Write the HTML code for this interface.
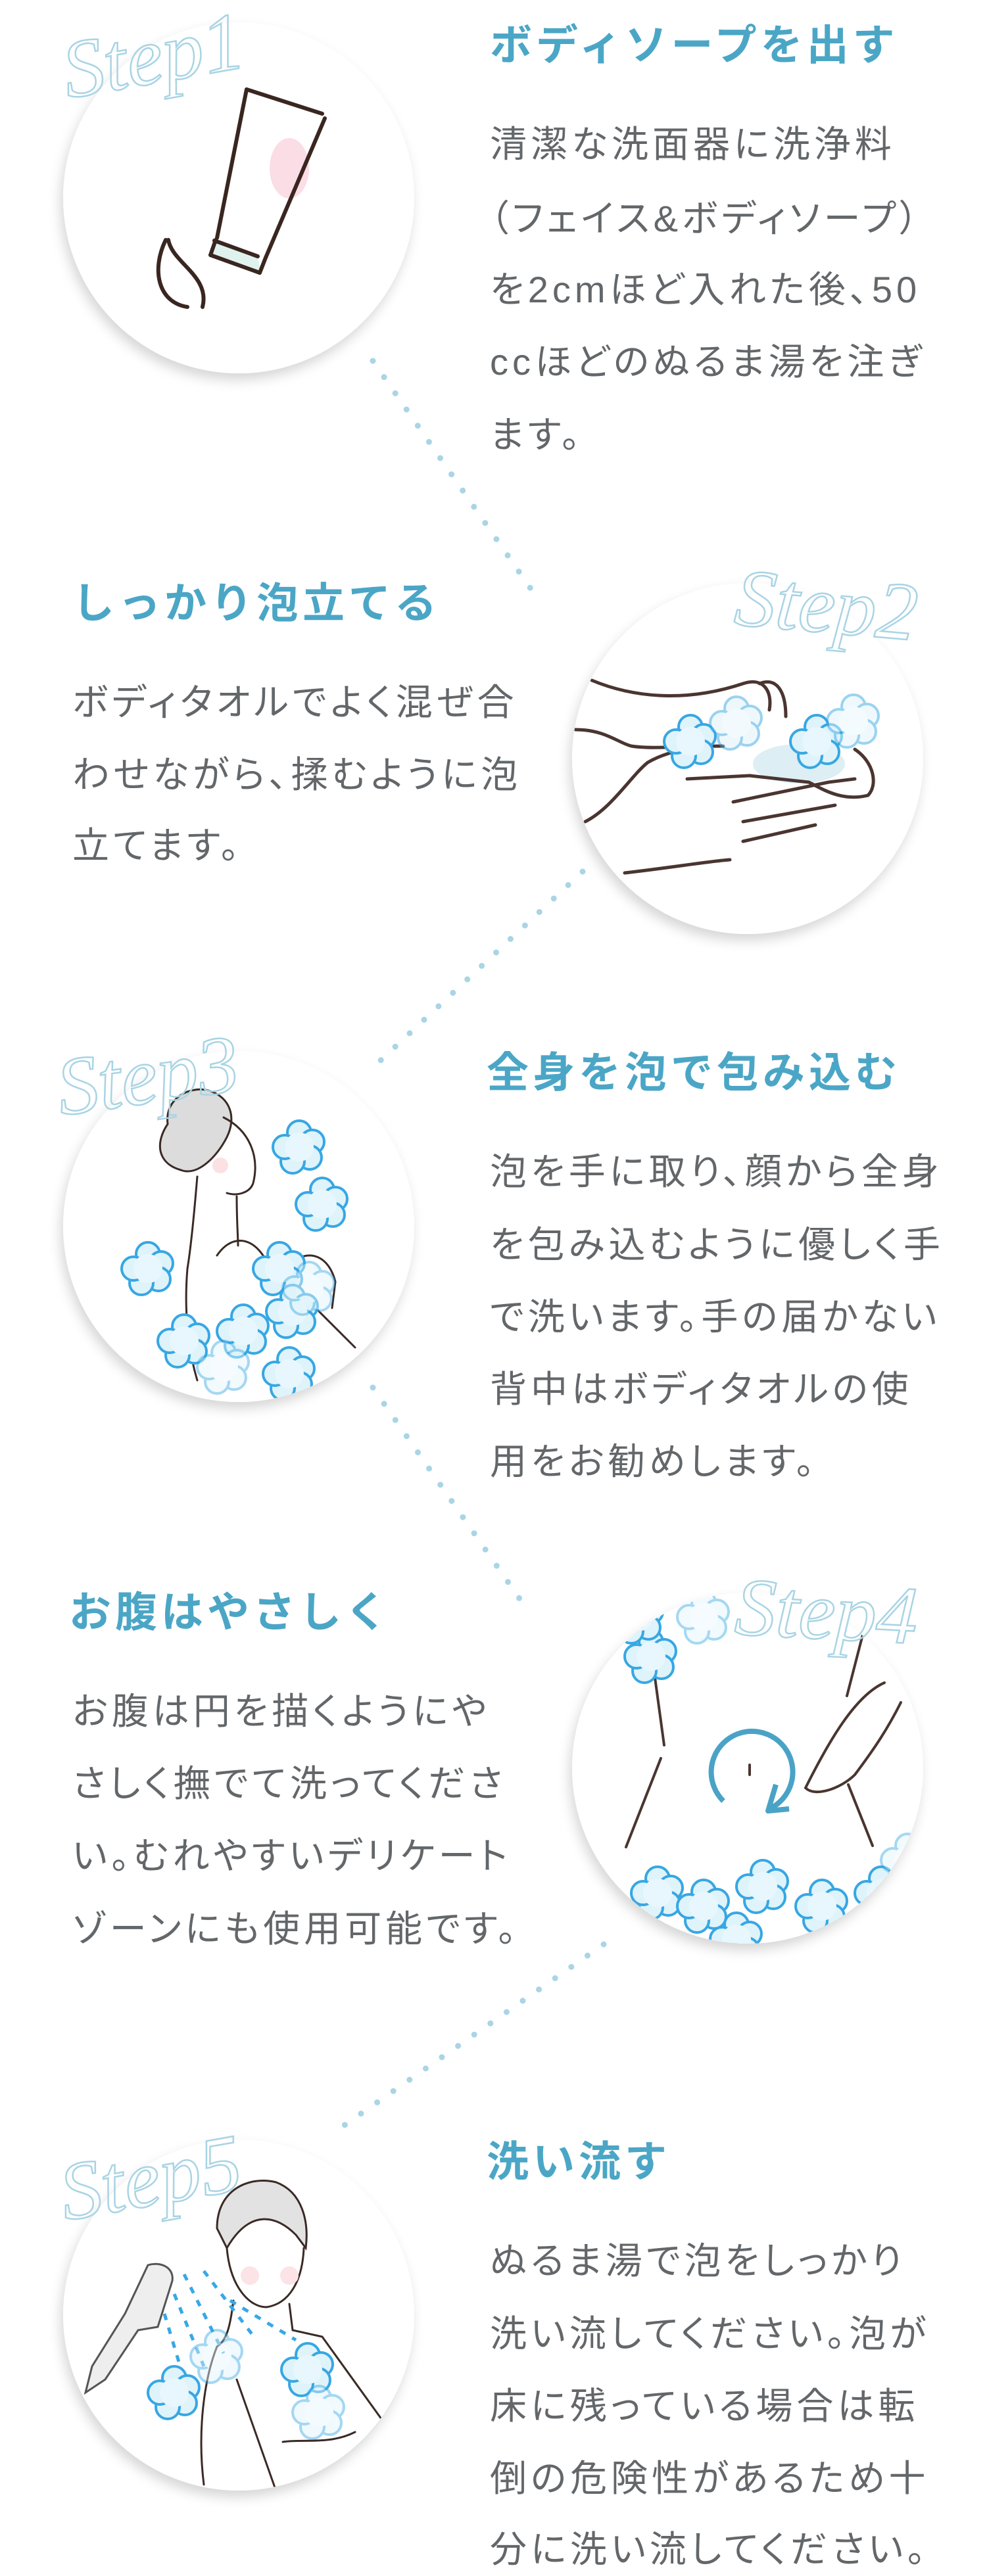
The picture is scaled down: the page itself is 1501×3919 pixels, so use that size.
<!DOCTYPE html>
<html><head><meta charset="utf-8">
<style>
html,body{margin:0;padding:0;background:#fff;}
body{width:1501px;height:3907px;position:relative;overflow:hidden;font-family:"Liberation Sans","Noto Sans CJK JP",sans-serif;}
.t{position:absolute;white-space:nowrap;color:#4ba6c6;font-weight:700;font-size:64px;letter-spacing:6px;height:80px;line-height:80px;}
.b{position:absolute;white-space:nowrap;color:#63676a;font-size:56px;letter-spacing:6px;height:80px;line-height:80px;font-feature-settings:"palt";}
svg{position:absolute;left:0;top:0;}
</style></head><body>
<svg width="1501" height="3907" viewBox="0 0 1501 3907">
<defs>
<filter id="sh" x="-20%" y="-20%" width="140%" height="140%"><feDropShadow dx="-4" dy="10" stdDeviation="9" flood-color="#000" flood-opacity="0.16"/></filter>
<clipPath id="c1"><circle cx="363" cy="301" r="267"/></clipPath>
<clipPath id="c2"><circle cx="1137" cy="1154" r="267"/></clipPath>
<clipPath id="c3"><circle cx="363" cy="1866" r="267"/></clipPath>
<clipPath id="c4"><circle cx="1137" cy="2690" r="267"/></clipPath>
<clipPath id="c5"><circle cx="363" cy="3522" r="267"/></clipPath>
<g id="foam">
<circle cx="0" cy="-22" r="18" fill="#dff3fb" stroke="#37a7e3" stroke-width="4"/>
<circle cx="20" cy="-8" r="18" fill="#dff3fb" stroke="#37a7e3" stroke-width="4"/>
<circle cx="16" cy="16" r="18" fill="#dff3fb" stroke="#37a7e3" stroke-width="4"/>
<circle cx="-10" cy="22" r="18" fill="#dff3fb" stroke="#37a7e3" stroke-width="4"/>
<circle cx="-22" cy="0" r="18" fill="#dff3fb" stroke="#37a7e3" stroke-width="4"/>
<circle cx="0" cy="0" r="22" fill="#e8f7fd"/>
</g>
</defs>

<g>
<line x1="567" y1="549" x2="822" y2="917" stroke="#a9d5e4" stroke-width="9" stroke-linecap="round" stroke-dasharray="0 30"/>
<line x1="886" y1="1326" x2="578" y2="1614" stroke="#a9d5e4" stroke-width="9" stroke-linecap="round" stroke-dasharray="0 30"/>
<line x1="567" y1="2111" x2="806" y2="2455" stroke="#a9d5e4" stroke-width="9" stroke-linecap="round" stroke-dasharray="0 30"/>
<line x1="918" y1="2958" x2="524" y2="3233" stroke="#a9d5e4" stroke-width="9" stroke-linecap="round" stroke-dasharray="0 30"/>
</g>

<g fill="#fff" filter="url(#sh)">
<circle cx="363" cy="301" r="267"/>
<circle cx="1137" cy="1154" r="267"/>
<circle cx="363" cy="1866" r="267"/>
<circle cx="1137" cy="2690" r="267"/>
<circle cx="363" cy="3522" r="267"/>
</g>

<g clip-path="url(#c1)" fill="none" stroke="#3a2620" stroke-width="6" stroke-linecap="round">
<ellipse cx="440" cy="256" rx="30" ry="46" fill="#fbdde6" stroke="none"/>
<polygon points="325,365 392,390 396,412 322,388" fill="#dff2ee" stroke="none"/>
<line x1="375" y1="136" x2="490" y2="173"/>
<line x1="375" y1="136" x2="330" y2="362"/>
<line x1="494" y1="180" x2="404" y2="392"/>
<line x1="326" y1="366" x2="392" y2="390"/>
<line x1="320" y1="388" x2="395" y2="415"/>
<line x1="328" y1="365" x2="320" y2="388"/>
<line x1="404" y1="392" x2="395" y2="415"/>
<path d="M252 365 C230 410,240 460,285 467"/>
<path d="M256 365 C262 400,320 420,308 467"/>
</g>

<g clip-path="url(#c2)">
<ellipse cx="1215" cy="1162" rx="70" ry="30" fill="#ddeef5"/>
<g fill="none" stroke="#4a3530" stroke-width="5" stroke-linecap="round">
<path d="M900 1035 C960 1060,1040 1070,1130 1040 C1160 1030,1175 1050,1170 1080"/>
<path d="M1155 1040 C1180 1030,1195 1050,1195 1090"/>
<path d="M875 1110 C920 1110,940 1130,960 1135 C990 1140,1040 1135,1100 1135"/>
<path d="M890 1250 C930 1230,960 1180,985 1160 C1010 1145,1040 1140,1080 1130"/>
<path d="M1045 1185 L1140 1180 L1230 1190 C1250 1200,1280 1220,1320 1210"/>
<path d="M1115 1220 L1260 1190 L1300 1185"/>
<path d="M1130 1250 L1270 1225"/>
<path d="M1130 1280 L1240 1255"/>
<path d="M950 1328 C1020 1320,1080 1310,1110 1308"/>
<path d="M1300 1140 C1330 1160,1335 1195,1320 1210"/>
</g>
<use href="#foam" x="1050" y="1128"/>
<use href="#foam" x="1242" y="1128"/>
<g opacity="0.5"><use href="#foam" x="1298" y="1097"/><use href="#foam" x="1120" y="1100"/></g>
</g>

<g clip-path="url(#c3)">
<path d="M255 1710 C250 1670,290 1650,320 1660 C350 1670,360 1700,345 1730 C330 1760,300 1790,275 1780 C240 1770,235 1740,255 1710Z" fill="#dcdcdc" stroke="#3a2a25" stroke-width="3"/>
<g fill="none" stroke="#3a2a25" stroke-width="3" stroke-linecap="round">
<path d="M340 1700 C380 1720,395 1760,385 1800 C380 1815,360 1820,345 1815"/>
<path d="M300 1790 C295 1850,290 1900,285 1930"/>
<path d="M360 1820 C360 1860,362 1880,362 1895"/>
<path d="M285 1930 C280 1990,285 2050,300 2100"/>
<path d="M330 1910 C350 1880,380 1880,400 1910 L540 2050"/>
<path d="M445 1920 C470 1900,500 1910,510 1950 L505 1990"/>
</g>
<circle cx="335" cy="1773" r="12" fill="#fbe0e4"/>
<use href="#foam" x="490" y="1832"/>
<use href="#foam" x="225" y="1930"/>
<use href="#foam" x="455" y="1745"/>
<use href="#foam" x="425" y="1930"/>
<use href="#foam" x="280" y="2040"/>
<use href="#foam" x="370" y="2025"/>
<use href="#foam" x="445" y="1995"/>
<use href="#foam" x="440" y="2090"/>
<g opacity="0.45"><use href="#foam" x="340" y="2080"/><use href="#foam" x="470" y="1960"/></g>
</g>

<g clip-path="url(#c4)">
<g fill="none" stroke="#4a3530" stroke-width="4" stroke-linecap="round">
<line x1="995" y1="2545" x2="1010" y2="2655"/>
<line x1="1005" y1="2675" x2="952" y2="2810"/>
<line x1="1312" y1="2487" x2="1288" y2="2580"/>
<line x1="1290" y1="2715" x2="1327" y2="2808"/>
<path d="M1345 2560 C1300 2580,1260 2650,1225 2720 C1240 2735,1280 2720,1300 2700 C1330 2660,1350 2630,1370 2590"/>
<line x1="1140" y1="2685" x2="1140" y2="2700"/>
</g>
<path d="M1100 2740 A62 62 0 1 1 1170 2752" fill="none" stroke="#4aa3c6" stroke-width="8"/>
<path d="M1180 2715 L1168 2755 L1200 2752" fill="none" stroke="#4aa3c6" stroke-width="8" stroke-linejoin="round"/>
<use href="#foam" x="990" y="2520"/>
<use href="#foam" x="970" y="2460"/>
<use href="#foam" x="1000" y="2880"/>
<use href="#foam" x="1070" y="2900"/>
<use href="#foam" x="1160" y="2870"/>
<use href="#foam" x="1250" y="2900"/>
<use href="#foam" x="1340" y="2880"/>
<use href="#foam" x="960" y="2940"/>
<use href="#foam" x="1120" y="2950"/>
<use href="#foam" x="1300" y="2950"/>
<g opacity="0.45"><use href="#foam" x="1070" y="2460"/><use href="#foam" x="1380" y="2830"/></g>
</g>

<g clip-path="url(#c5)">
<path d="M330 3390 C330 3330,380 3310,420 3320 C460 3335,470 3380,465 3420 L450 3400 C420 3370,380 3360,345 3420Z" fill="#e2e2e2" stroke="#3a2a25" stroke-width="3"/>
<g fill="none" stroke="#3a2a25" stroke-width="3" stroke-linecap="round">
<path d="M345 3420 C350 3480,380 3510,405 3510 C440 3505,460 3470,462 3420"/>
<path d="M355 3500 C350 3540,345 3560,330 3570"/>
<path d="M440 3505 L445 3545 L490 3555 L580 3680"/>
<path d="M330 3570 C310 3620,300 3700,310 3780"/>
<path d="M360 3620 L420 3790"/>
<path d="M430 3715 C460 3710,500 3720,540 3700"/>
</g>
<path d="M225 3446 C245 3440,265 3450,262 3470 L240 3540 L210 3545 L160 3620 L130 3640 L140 3600 L190 3520 Z" fill="#eeeeee" stroke="#555" stroke-width="3"/>
<g stroke="#38a8e5" stroke-width="5" stroke-dasharray="10 12">
<line x1="280" y1="3460" x2="340" y2="3580"/>
<line x1="265" y1="3490" x2="310" y2="3600"/>
<line x1="250" y1="3520" x2="280" y2="3620"/>
<line x1="310" y1="3455" x2="390" y2="3560"/>
<line x1="350" y1="3500" x2="450" y2="3560"/>
</g>
<circle cx="380" cy="3462" r="14" fill="#fbe3e6"/>
<circle cx="440" cy="3462" r="14" fill="#fbe3e6"/>
<use href="#foam" x="265" y="3640"/>
<use href="#foam" x="468" y="3605"/>
<g opacity="0.45"><use href="#foam" x="330" y="3585"/><use href="#foam" x="485" y="3670"/></g>
</g>

<g font-family="'Liberation Serif',serif" font-style="italic" font-size="125" fill="none" stroke="#a9d4e4" stroke-width="2.5">
<text x="95" y="125" transform="rotate(-10 240 90)">Step1</text>
<text x="1118" y="965" transform="rotate(5 1290 920)">Step2</text>
<text x="85" y="1675" transform="rotate(-8 245 1630)">Step3</text>
<text x="1118" y="2495" transform="rotate(3 1290 2450)">Step4</text>
<text x="88" y="3350" transform="rotate(-10 255 3300)">Step5</text>
</g>
</svg>

<div class="t" style="left:745px;top:29px;">ボディソープを出す</div>
<div class="b" style="left:745px;top:180px;">清潔な洗面器に洗浄料</div>
<div class="b" style="left:745px;top:293px;">（フェイス&amp;ボディソープ）</div>
<div class="b" style="left:745px;top:401px;">を2cmほど入れた後、50</div>
<div class="b" style="left:745px;top:511px;">ccほどのぬるま湯を注ぎ</div>
<div class="b" style="left:745px;top:622px;">ます。</div>

<div class="t" style="left:110px;top:878px;">しっかり泡立てる</div>
<div class="b" style="left:110px;top:1029px;">ボディタオルでよく混ぜ合</div>
<div class="b" style="left:110px;top:1139px;">わせながら、揉むように泡</div>
<div class="b" style="left:110px;top:1247px;">立てます。</div>

<div class="t" style="left:740px;top:1592px;">全身を泡で包み込む</div>
<div class="b" style="left:745px;top:1743px;">泡を手に取り、顔から全身</div>
<div class="b" style="left:745px;top:1854px;">を包み込むように優しく手</div>
<div class="b" style="left:745px;top:1964px;">で洗います。手の届かない</div>
<div class="b" style="left:745px;top:2074px;">背中はボディタオルの使</div>
<div class="b" style="left:745px;top:2184px;">用をお勧めします。</div>

<div class="t" style="left:105px;top:2413px;">お腹はやさしく</div>
<div class="b" style="left:110px;top:2564px;">お腹は円を描くようにや</div>
<div class="b" style="left:110px;top:2674px;">さしく撫でて洗ってくださ</div>
<div class="b" style="left:110px;top:2784px;">い。むれやすいデリケート</div>
<div class="b" style="left:110px;top:2895px;">ゾーンにも使用可能です。</div>

<div class="t" style="left:740px;top:3249px;">洗い流す</div>
<div class="b" style="left:745px;top:3400px;">ぬるま湯で泡をしっかり</div>
<div class="b" style="left:745px;top:3511px;">洗い流してください。泡が</div>
<div class="b" style="left:745px;top:3621px;">床に残っている場合は転</div>
<div class="b" style="left:745px;top:3731px;">倒の危険性があるため十</div>
<div class="b" style="left:745px;top:3839px;">分に洗い流してください。</div>
</body></html>
